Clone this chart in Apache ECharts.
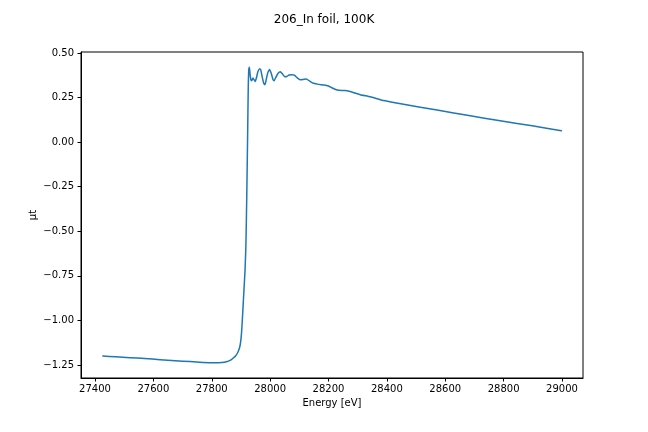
<!DOCTYPE html>
<html>
<head>
<meta charset="utf-8">
<script src="https://cdn.jsdelivr.net/npm/echarts@6/dist/echarts.min.js"></script>
<style>html,body{margin:0;padding:0;background:#fff}#c{width:648px;height:432px}</style>
</head>
<body>
<div id="c"></div>
<script>
const energy = [27427,27470,27520,27570,27623,27675,27726,27770,27812,27835,27850,27863,27873,27882,27889,27895,27899,27902,27905,27908,27911,27914,27917,27920,27923,27925,27927,27929,27931,27934,27937,27941,27945,27949,27953,27958,27964,27968,27973,27978,27982,27986,27992,27998,28004,28010,28014,28020,28028,28035,28042,28050,28057,28065,28075,28083,28093,28103,28114,28124,28135,28149,28166,28185,28200,28215,28230,28257,28280,28309,28343,28389,28457,28572,28686,28783,28898,28998];
const mu = [-1.200,-1.204,-1.209,-1.214,-1.220,-1.226,-1.231,-1.236,-1.238,-1.236,-1.232,-1.224,-1.212,-1.198,-1.180,-1.155,-1.120,-1.070,-0.990,-0.900,-0.810,-0.720,-0.580,-0.300,0.050,0.300,0.410,0.420,0.385,0.350,0.345,0.360,0.350,0.340,0.360,0.395,0.412,0.405,0.365,0.330,0.322,0.345,0.390,0.408,0.385,0.350,0.345,0.365,0.388,0.395,0.383,0.367,0.368,0.377,0.378,0.376,0.360,0.350,0.352,0.354,0.343,0.330,0.324,0.321,0.315,0.302,0.292,0.289,0.281,0.266,0.255,0.233,0.212,0.180,0.148,0.121,0.092,0.064];
const xTicks = [27400,27600,27800,28000,28200,28400,28600,28800,29000];
const yTicks = [-1.25,-1.00,-0.75,-0.50,-0.25,0.00,0.25,0.50];
const titleText = '206_In foil, 100K';
const xName = 'Energy [eV]';
const yName = 'μt';

const data = energy.map((e, i) => [e, mu[i]]);
const font = 'DejaVu Sans';
const chart = echarts.init(document.getElementById('c'));
chart.setOption({
  animation: false,
  backgroundColor: '#ffffff',
  title: {text: titleText, left: 'center', top: 9, textStyle: {fontFamily: font, fontSize: 12, fontWeight: 'normal', color: '#000'}},
  grid: {left: 81, right: 65, top: 52, bottom: 54, show: true, borderColor: '#000', borderWidth: 1, backgroundColor: 'transparent'},
  xAxis: {
    type: 'value', min: 27352, max: 29072,
    name: xName, nameLocation: 'middle', nameGap: 20, nameMoveOverlap: false,
    nameTextStyle: {fontFamily: font, fontSize: 10, color: '#000'},
    axisLine: {show: true, onZero: false, lineStyle: {color: '#000', width: 1}},
    axisTick: {show: true, inside: false, length: 3.5, lineStyle: {color: '#000'}, customValues: xTicks},
    axisLabel: {fontFamily: font, fontSize: 10, color: '#000', margin: 6, customValues: xTicks, formatter: v => String(v)},
    splitLine: {show: false}
  },
  yAxis: {
    type: 'value', min: -1.323, max: 0.5056,
    name: yName, nameLocation: 'middle', nameGap: 43, nameRotate: 90, nameMoveOverlap: false,
    nameTextStyle: {fontFamily: font, fontSize: 10, color: '#000'},
    axisLine: {show: true, onZero: false, lineStyle: {color: '#000', width: 1}},
    axisTick: {show: true, inside: false, length: 3.5, lineStyle: {color: '#000'}, customValues: yTicks},
    axisLabel: {fontFamily: font, fontSize: 10, color: '#000', margin: 7, customValues: yTicks, formatter: v => v.toFixed(2).replace('-', '\u2212')},
    splitLine: {show: false}
  },
  series: [{
    type: 'line', data: data, showSymbol: false, smooth: 0.15,
    lineStyle: {color: '#1f77b4', width: 1.5, join: 'round', cap: 'round'}
  }]
});
</script>
</body>
</html>
